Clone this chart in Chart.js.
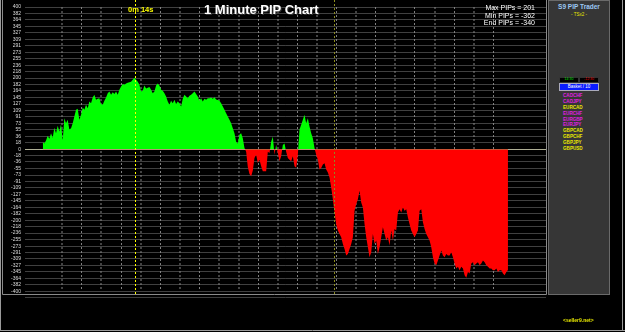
<!DOCTYPE html>
<html>
<head>
<meta charset="utf-8">
<script src="https://cdn.jsdelivr.net/npm/chart.js@4"></script>
<style>
  html, body { margin: 0; padding: 0; background: #000; }
  #wrap { position: relative; width: 625px; height: 332px; overflow: hidden; background: #000;
          font-family: "Liberation Sans", Arial, sans-serif; }
  #wrap canvas { position: absolute; left: 0; top: 0; }
  .t { position: absolute; white-space: nowrap; line-height: 1; }
  #panel { position: absolute; left: 548px; top: 0; width: 60px; height: 293px;
           background: #363636; border: 1px solid #6a6a6a; }
  .pair { position: absolute; left: 14px; font-size: 4.6px; font-weight: bold; line-height: 1; }
</style>
</head>
<body>
<div id="wrap">
  <canvas id="pip" width="625" height="332"></canvas>

  <div class="t" style="left:128px;top:6px;color:#ffff00;font-size:7.5px;font-weight:bold;">0m 14s</div>
  <div class="t" style="left:204px;top:3px;color:#fff;font-size:13px;font-weight:bold;text-shadow:1px 1px 0 #333;">1 Minute PIP Chart</div>

  <div class="t" style="right:90px;top:4px;color:#fff;font-size:7px;text-align:right;line-height:7.5px;">
    Max PIPs = 201<br>Min PIPs = -362<br>End PIPs = -340
  </div>

  <div id="panel">
    <div class="t" style="left:0;width:60px;top:3px;text-align:center;color:#9cc8f4;font-size:6.5px;font-weight:bold;">S9 PIP Trader</div>
    <div class="t" style="left:0;width:60px;top:12px;text-align:center;color:#e8e800;font-size:4.5px;">- TSx2 -</div>

    <div class="t" style="left:10px;top:76px;width:18px;height:4px;background:#000;border:1px solid #333;color:#00e000;font-size:3.5px;text-align:center;">14:30</div>
    <div class="t" style="left:30px;top:76px;width:18px;height:4px;background:#000;border:1px solid #333;color:#e00000;font-size:3.5px;text-align:center;">-12:30</div>
    <div class="t" style="left:10px;top:82px;width:38px;height:6px;background:#0a1cff;border:1px solid #aab;color:#fff;font-size:4.5px;text-align:center;line-height:6px;">Basket / 10</div>

    <div class="pair" style="top:93px;color:#e020e0;">CADCHF</div>
    <div class="pair" style="top:99px;color:#e020e0;">CADJPY</div>
    <div class="pair" style="top:105px;color:#e8e800;">EURCAD</div>
    <div class="pair" style="top:111px;color:#e020e0;">EURCHF</div>
    <div class="pair" style="top:116.5px;color:#e020e0;">EURGBP</div>
    <div class="pair" style="top:122px;color:#e020e0;">EURJPY</div>
    <div class="pair" style="top:128px;color:#e8e800;">GBPCAD</div>
    <div class="pair" style="top:134px;color:#e8e800;">GBPCHF</div>
    <div class="pair" style="top:140px;color:#e8e800;">GBPJPY</div>
    <div class="pair" style="top:146px;color:#e8e800;">GBPUSD</div>
  </div>

  <div class="t" style="left:563px;top:318px;color:#e8e800;font-size:5px;font-weight:bold;">&lt;seller9.net&gt;</div>
</div>

<script>
// basket result in pips, one value per bar
const pipsRise = [
  21, 16, 24, 38, 29, 45, 32, 60, 45, 66,
  50, 70, 24, 87, 73, 83, 55, 59, 73, 92,
  111, 114, 83, 97, 117, 111, 125, 115, 134, 129,
  145, 153, 139, 142, 143, 127, 125, 136, 145, 157,
  162, 153, 160, 155, 162, 153, 167, 176, 183, 181,
  185, 187, 188, 190, 195, 201, 195, 190, 181, 162,
  164, 179, 171, 173, 175, 167, 157, 162, 179, 185,
  179, 167, 164, 157, 148, 134, 125, 136, 129, 139,
  127, 134, 129, 120, 142, 153, 148, 143, 150, 153,
  157, 162, 155, 148, 136, 143, 134, 142, 139, 143,
  143, 145, 142, 146, 140, 138, 136
];
const pipsMiddle = [
  129, 120, 111, 101, 92, 83, 73, 59, 45, 21,
  16, 41, 45, 31, 3, -7, -50, -70, -76, -60,
  -25, -16, -39, -30, -48, -62, -62, -62, -7, -11,
  21, 35, -16, 12, -11, -34, -20, 12, 16, -7,
  -25, -30, -34, -20, -48, -52, -16, 55, 69, 83,
  97, 73, 87, 64, 45, 31, 3, -16, -30
];
const pipsFall = [
  -57, -53, -43, -40, -57, -66, -80, -108, -141, -178,
  -211, -229, -239, -248, -267, -281, -299, -295, -281, -267,
  -248, -173, -155, -141, -117, -150, -164, -211, -248, -276,
  -304, -290, -239, -267, -257, -295, -276, -248, -220, -239,
  -257, -248, -271, -229, -257, -225, -229, -178, -169, -178,
  -164, -173, -169, -192, -211, -229, -239, -248, -239, -229,
  -173, -169, -206, -225, -239, -248, -257, -276, -304, -322,
  -327, -313, -299, -285, -299, -304, -295, -299, -299, -290,
  -304, -322, -336, -331, -341, -331, -336, -355, -362, -346,
  -350, -322, -318, -327, -322, -318, -327, -322, -313, -318,
  -327, -331, -336, -336, -341, -341, -336, -346, -341, -341,
  -350, -355, -346, -340
];
const pips = [...pipsRise, ...pipsMiddle, ...pipsFall];

const yTicks = [
  400, 382, 364, 345, 327, 309, 291, 273, 255, 236, 218,
  200, 182, 164, 145, 127, 109, 91, 73, 55, 36, 18, 0,
  -18, -36, -55, -73, -91, -109, -127, -145, -164, -182,
  -200, -218, -236, -255, -273, -291, -309, -327, -345, -364, -382, -400
];

// vertical divisions, in bars
const xStep = 11.75;
const xDivisions = 23;
// session markers, in bars
const sessions = [
  { at: 55.5, color: '#ffff00' },
  { at: 174.5, color: '#8c8c22' }
];

const framePlugin = {
  id: 'frame',
  afterDraw(chart) {
    const { ctx, scales: { x } } = chart;
    ctx.save();
    ctx.lineWidth = 1;
    ctx.setLineDash([2, 2]);
    sessions.forEach(s => {
      const px = Math.round(x.getPixelForValue(s.at)) + 0.5;
      ctx.strokeStyle = s.color;
      ctx.beginPath();
      ctx.moveTo(px, 0);
      ctx.lineTo(px, 294);
      ctx.stroke();
    });
    ctx.setLineDash([]);
    ctx.strokeStyle = '#8a8a8a';
    ctx.beginPath();
    ctx.moveTo(2.5, 0);
    ctx.lineTo(2.5, 294.5);
    ctx.lineTo(546.5, 294.5);
    ctx.lineTo(546.5, 0);
    ctx.stroke();
    ctx.strokeStyle = '#3c3c3c';
    ctx.beginPath();
    ctx.moveTo(25, 297.5);
    ctx.lineTo(546, 297.5);
    ctx.stroke();
    ctx.strokeStyle = '#9a9a9a';
    ctx.beginPath();
    ctx.moveTo(0.5, 0);
    ctx.lineTo(0.5, 331);
    ctx.moveTo(0, 330.5);
    ctx.lineTo(625, 330.5);
    ctx.moveTo(622.5, 0);
    ctx.lineTo(622.5, 331);
    ctx.stroke();
    ctx.restore();
  }
};

new Chart(document.getElementById('pip'), {
  type: 'line',
  data: {
    datasets: [{
      data: pips.map((v, i) => ({ x: i, y: v })),
      borderWidth: 0,
      pointRadius: 0,
      tension: 0,
      fill: { target: 'origin', above: '#00ff00', below: '#ff0000' }
    }]
  },
  options: {
    responsive: false,
    animation: false,
    layout: { padding: { left: 0, right: 79, top: 5, bottom: 40.7 } },
    plugins: { legend: { display: false }, tooltip: { enabled: false } },
    scales: {
      x: {
        type: 'linear',
        min: -10.6,
        max: 301.8,
        z: 1,
        afterBuildTicks: axis => {
          const t = [];
          for (let k = 1; k <= xDivisions; k++) t.push({ value: k * xStep });
          axis.ticks = t;
        },
        afterFit: axis => { axis.height = 0; },
        ticks: { display: false },
        border: { display: false, dash: [2, 2] },
        grid: {
          drawTicks: false,
          color: c => {
            const k = c.index + 1;
            const dark = k < 10 ? k % 2 === 1 : k % 2 === 0;
            return dark ? 'rgba(90,90,90,0.75)' : 'rgba(170,170,170,0.75)';
          },
          lineWidth: c => {
            const k = c.index + 1;
            const dark = k < 10 ? k % 2 === 1 : k % 2 === 0;
            return dark ? 2 : 1;
          }
        }
      },
      y: {
        min: -400,
        max: 400,
        z: 1,
        afterBuildTicks: axis => { axis.ticks = yTicks.map(v => ({ value: v })); },
        afterFit: axis => { axis.width = 25; },
        border: { display: false },
        grid: {
          drawTicks: false,
          color: c => c.tick.value === 0 ? 'rgba(235,235,200,0.75)' : 'rgba(136,136,136,0.47)',
          lineWidth: 1
        },
        ticks: {
          padding: 4,
          autoSkip: false,
          color: '#dcdcdc',
          font: { family: 'Liberation Sans', size: 5 },
          callback: v => String(v)
        }
      }
    }
  },
  plugins: [framePlugin]
});
</script>
</body>
</html>
